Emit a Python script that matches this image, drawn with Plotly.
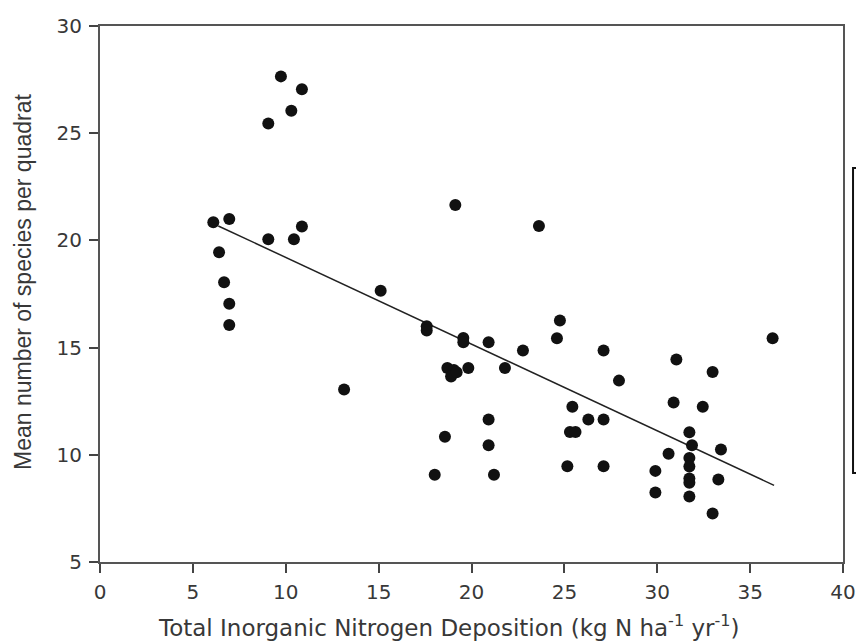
import plotly.graph_objects as go
import numpy as np

# Data
nitrogen_dep = [6.1, 6.96, 6.41, 6.68, 6.96, 6.96, 9.06, 9.74, 10.3, 10.87,
                9.06, 10.44, 10.87, 13.14, 15.11, 17.59, 17.59, 18.02, 18.57, 18.7,
                19.05, 18.9, 19.2, 19.83, 19.56, 19.56, 19.13, 20.92, 20.92, 20.92,
                21.21, 21.8, 22.77, 23.63, 24.6, 24.76, 25.16, 25.43, 25.3, 25.6,
                26.29, 27.11, 27.11, 27.11, 27.94, 29.9, 29.9, 30.61, 30.88, 31.03,
                31.73, 31.87, 31.73, 31.73, 31.73, 31.73, 31.73, 32.45, 32.98, 32.98,
                33.29, 33.43, 36.21]
species = [20.85, 21.0, 19.45, 18.05, 17.05, 16.05, 25.45, 27.65, 26.05, 27.05,
           20.05, 20.05, 20.65, 13.05, 17.65, 16.0, 15.8, 9.07, 10.84, 14.05,
           13.95, 13.65, 13.85, 14.05, 15.45, 15.25, 21.65, 15.25, 11.65, 10.45,
           9.07, 14.05, 14.86, 20.67, 15.44, 16.26, 9.47, 12.24, 11.06, 11.06,
           11.65, 11.65, 14.86, 9.47, 13.46, 9.25, 8.24, 10.05, 12.44, 14.45,
           11.05, 10.45, 9.85, 9.45, 8.9, 8.7, 8.05, 12.24, 13.86, 7.26,
           8.85, 10.25, 15.44]

fit_slope = -0.4044
fit_intercept = 23.25
fit_x_range = [6.37, 36.29]

x_ticks = [0, 5, 10, 15, 20, 25, 30, 35, 40]
y_ticks = [5, 10, 15, 20, 25, 30]

x_title = "Total Inorganic Nitrogen Deposition (kg N ha<sup>-1</sup> yr<sup>-1</sup>)"
y_title = "Mean number of species per quadrat"

fit_x = np.array(fit_x_range)
fit_y = fit_intercept + fit_slope * fit_x

fig = go.Figure()
fig.add_trace(go.Scatter(
    x=fit_x, y=fit_y, mode="lines",
    line=dict(color="#222222", width=1.5),
    showlegend=False, hoverinfo="skip"))
fig.add_trace(go.Scatter(
    x=nitrogen_dep, y=species, mode="markers",
    marker=dict(color="#111111", size=12, line=dict(width=0)),
    showlegend=False))

WIDE = "DejaVu Sans, Verdana, sans-serif"
NARROW = "Liberation Sans, Arial, sans-serif"
tick_font = dict(family=WIDE, size=20, color="#383838")
x_title_font = dict(family=WIDE, size=23, color="#383838")
y_title_font = dict(family=NARROW, size=23, color="#383838")

axis_common = dict(
    showgrid=False, zeroline=False, automargin=False,
    showline=True, linecolor="#555555", linewidth=2, mirror=True,
    ticks="outside", ticklen=9, tickwidth=1.5, tickcolor="#444444",
    tickfont=tick_font,
)

fig.update_layout(
    width=856, height=642,
    margin=dict(l=100, r=13, t=26, b=80),
    paper_bgcolor="white", plot_bgcolor="white",
    xaxis=dict(range=[0, 40], tickvals=x_ticks, ticktext=[str(v) for v in x_ticks],
               ticklabelstandoff=2, **axis_common),
    yaxis=dict(range=[5, 30], tickvals=y_ticks, ticktext=[str(v) for v in y_ticks],
               ticklabelstandoff=3, **axis_common),
    annotations=[
        dict(text=x_title, xref="paper", yref="paper", x=0.47, y=-0.12,
             xanchor="center", yanchor="middle", showarrow=False, font=x_title_font),
        dict(text=y_title, xref="paper", yref="paper", x=-0.1036, y=0.5224,
             xanchor="center", yanchor="middle", textangle=-90, showarrow=False,
             font=y_title_font),
    ],
    shapes=[dict(type="rect", xref="paper", yref="paper",
                 x0=1.0135, x1=1.2, y0=0.166, y1=0.735,
                 line=dict(color="#111111", width=2), fillcolor="rgba(0,0,0,0)")],
)

fig.write_html("out.html",
               config={"displayModeBar": False},
               post_script="document.body.style.margin='0px';"
                           "document.body.style.overflow='hidden';")
